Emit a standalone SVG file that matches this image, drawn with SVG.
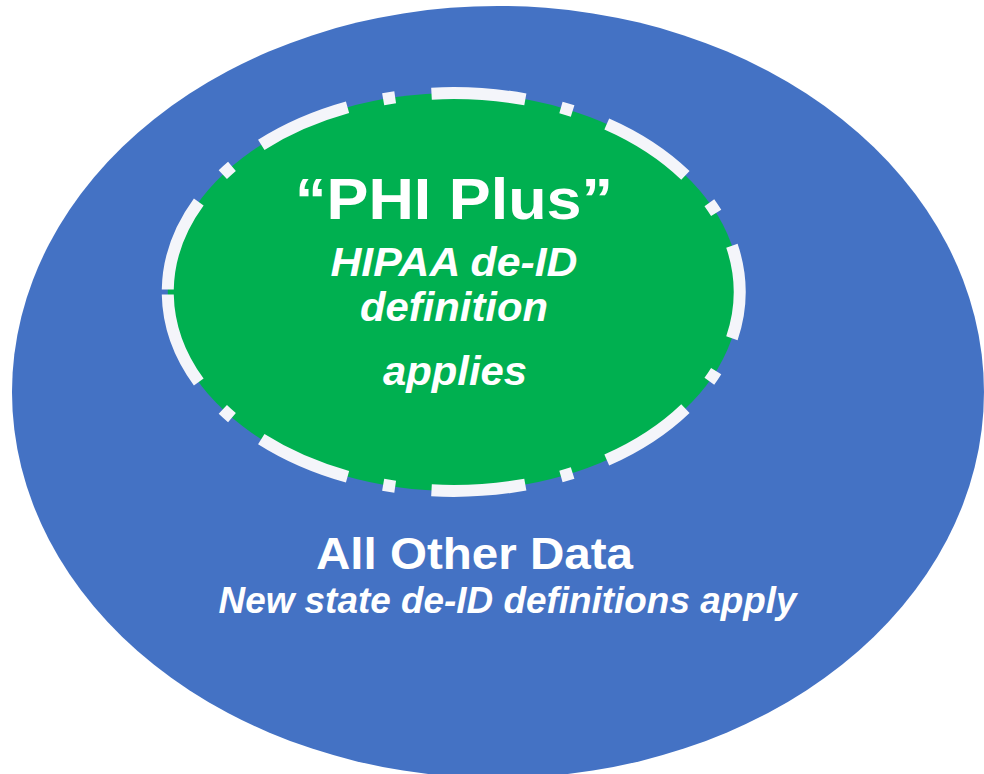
<svg xmlns="http://www.w3.org/2000/svg" width="984" height="774" viewBox="0 0 984 774">
  <style>
    .lbl { font-family: "Liberation Sans", Arial, sans-serif; font-weight: bold; fill: #FFFFFF; text-anchor: middle; }
    .it { font-style: italic; }
    .outer { fill: #4472C4; }
    .inner { fill: #00B050; }
    .rim { fill: none; stroke: #F4F5FA; stroke-width: 12; stroke-dasharray: 93 36 12 36; stroke-dashoffset: -2.5; stroke-linecap: butt; }
  </style>

  <rect x="0" y="0" width="984" height="774" fill="#FFFFFF"/>

  <!-- Outer set: everything outside PHI -->
  <g id="all-other-data">
    <ellipse class="outer" cx="498" cy="392" rx="486" ry="386"/>
    <text class="lbl" x="474.5" y="569" font-size="45" textLength="317" lengthAdjust="spacingAndGlyphs">All Other Data</text>
    <text class="lbl it" x="507.5" y="613" font-size="36" textLength="578" lengthAdjust="spacingAndGlyphs">New state de-ID definitions apply</text>
  </g>

  <!-- Inner set with dash-dot border, path starts at the left point and runs clockwise -->
  <g id="phi-plus">
    <ellipse class="inner" cx="453.75" cy="292" rx="286" ry="199"/>
    <path class="rim" pathLength="1514" d="M 167.75 292 A 286 199 0 0 1 739.75 292 A 286 199 0 0 1 167.75 292 Z"/>
    <text class="lbl" x="454" y="218.5" font-size="58" textLength="318" lengthAdjust="spacingAndGlyphs">“PHI Plus”</text>
    <text class="lbl it" x="454" y="276" font-size="41" textLength="247" lengthAdjust="spacingAndGlyphs">HIPAA de-ID</text>
    <text class="lbl it" x="454" y="321" font-size="41" textLength="188" lengthAdjust="spacingAndGlyphs">definition</text>
    <text class="lbl it" x="455" y="385" font-size="41" textLength="144" lengthAdjust="spacingAndGlyphs">applies</text>
  </g>

  <g id="connectors"/>
</svg>
